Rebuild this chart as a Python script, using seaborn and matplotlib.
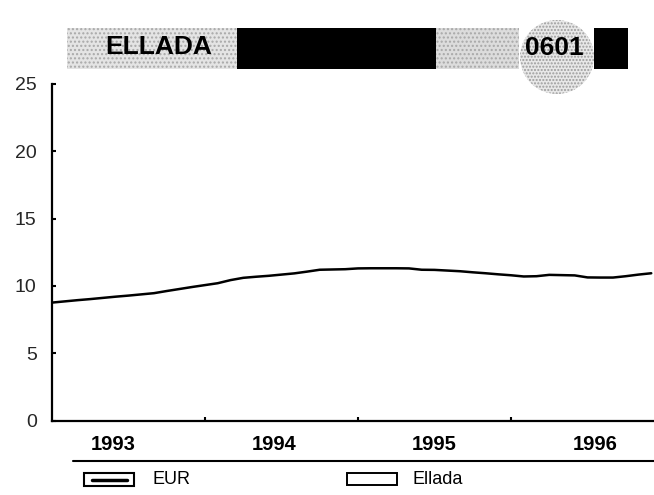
import numpy as np
import pandas as pd
import matplotlib
matplotlib.use('Agg')
import matplotlib.pyplot as plt
from matplotlib.patches import Rectangle, Ellipse
from matplotlib.lines import Line2D
from matplotlib.transforms import blended_transform_factory
import seaborn as sns

# Monthly values, Jan 1993 onwards
values = [8.76, 8.85, 8.94, 9.02, 9.11, 9.20, 9.28, 9.37, 9.46, 9.62, 9.77, 9.92,
          10.06, 10.20, 10.43, 10.60, 10.68, 10.75, 10.84, 10.93, 11.06, 11.20, 11.22, 11.24,
          11.30, 11.31, 11.31, 11.31, 11.30, 11.20, 11.19, 11.14, 11.09, 11.01, 10.94, 10.86,
          10.79, 10.70, 10.72, 10.82, 10.80, 10.78, 10.63, 10.62, 10.62, 10.72, 10.84, 10.94]
years = ['1993', '1994', '1995', '1996']
y_ticks = [0, 5, 10, 15, 20, 25]
legend_labels = ['EUR', 'Ellada']
title = 'ELLADA'
code = '0601'

df = pd.DataFrame({'month': np.arange(len(values)), 'value': values})

sns.set_theme(style='white')
plt.rcParams['font.family'] = ['Liberation Sans', 'DejaVu Sans']

W, H = 654, 495
fig = plt.figure(figsize=(W / 100, H / 100), dpi=100)
fig.patch.set_facecolor('white')


def fx(x):
    return x / W


def fy(y):
    return 1 - y / H


ax = fig.add_axes([fx(52), fy(420.5), (W - 52) / W, 336.5 / H])
sns.lineplot(data=df, x='month', y='value', color='black', linewidth=1.8, ax=ax)

ax.set_xlim(0, (W - 52) / 12.75)
ax.set_ylim(0, 25)
ax.set_yticks(y_ticks)
ax.set_xticks([12, 24, 36])
ax.set_xticklabels([])
ax.set_xlabel('')
ax.set_ylabel('')
ax.tick_params(axis='y', direction='in', length=3, width=1.5, color='black',
               labelsize=14, pad=11, left=True)
ax.tick_params(axis='x', direction='in', length=3, width=1.5, color='black', bottom=True)
sns.despine(ax=ax)
for side in ['left', 'bottom']:
    ax.spines[side].set_color('black')
    ax.spines[side].set_linewidth(1.6)

# year labels under the axis
trans = blended_transform_factory(ax.transData, ax.transAxes)
for i, year in enumerate(years):
    ax.text(4.8 + 12.6 * i, -0.07, year, transform=trans, ha='center', va='center',
            fontsize=14.5, fontweight='bold', color='black')

# header bar
tf = fig.transFigure
bar_top, bar_bot = 28, 69


def band(x0, x1, color, hatch=None):
    fig.add_artist(Rectangle((fx(x0), fy(bar_bot)), fx(x1) - fx(x0), fy(bar_top) - fy(bar_bot),
                             transform=tf, facecolor=color, edgecolor='#a8a8a8' if hatch else color,
                             hatch=hatch, linewidth=0))


band(67, 237, '#e4e4e4', '....')
band(237, 436, 'black')
band(436, 519, '#dcdcdc', '....')
band(594, 628, 'black')
fig.add_artist(Ellipse((fx(557), fy(57)), 74 / W, 74 / H, transform=tf, facecolor='#e8e8e8',
                       edgecolor='#9c9c9c', hatch='.....', linewidth=0))
fig.text(fx(105), fy(47), title, ha='left', va='center', fontsize=19,
         fontweight='bold', color='black')
fig.text(fx(554), fy(48), code, ha='center', va='center', fontsize=19,
         fontweight='bold', color='black')

# rule and legend at the bottom
fig.add_artist(Line2D([fx(73), fx(654)], [fy(461), fy(461)], transform=tf,
                      color='black', linewidth=1.5))
fig.add_artist(Rectangle((fx(84), fy(486)), fx(134) - fx(84), fy(473) - fy(486), transform=tf,
                         facecolor='white', edgecolor='black', linewidth=1.5))
fig.add_artist(Line2D([fx(92), fx(127)], [fy(479.5), fy(479.5)], transform=tf,
                      color='black', linewidth=2.5))
fig.text(fx(153), fy(480), legend_labels[0], ha='left', va='center', fontsize=13, color='black')
fig.add_artist(Rectangle((fx(347), fy(485)), fx(397) - fx(347), fy(473) - fy(485), transform=tf,
                         facecolor='white', edgecolor='black', linewidth=1.4))
fig.text(fx(412), fy(480), legend_labels[1], ha='left', va='center', fontsize=13, color='black')

plt.savefig('out.png', dpi=100)
